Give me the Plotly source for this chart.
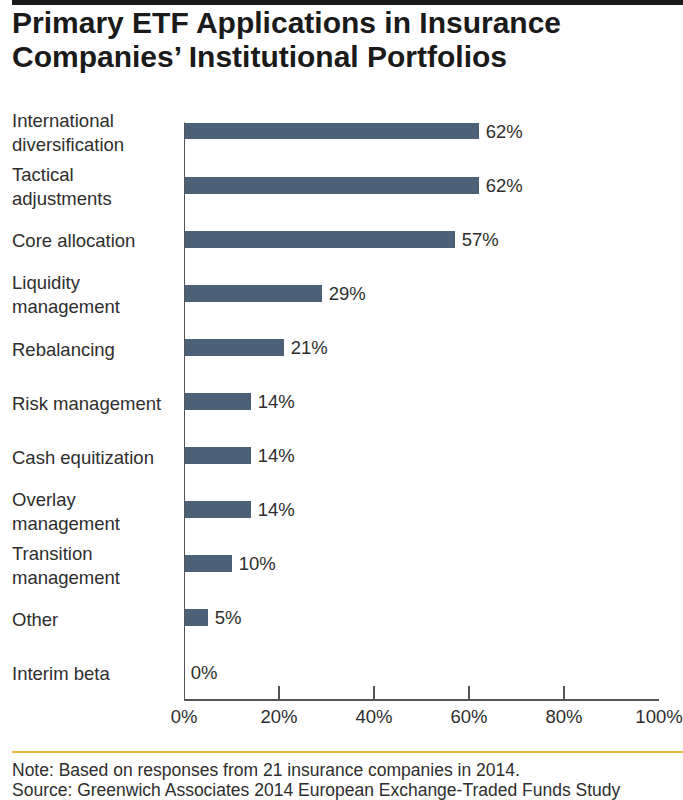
import plotly.graph_objects as go

# Survey data: share of insurers using ETFs for each purpose
categories = [
    "International<br>diversification",
    "Tactical<br>adjustments",
    "Core allocation",
    "Liquidity<br>management",
    "Rebalancing",
    "Risk management",
    "Cash equitization",
    "Overlay<br>management",
    "Transition<br>management",
    "Other",
    "Interim beta",
]
values = [62, 62, 57, 29, 21, 14, 14, 14, 10, 5, 0]
x_ticks = [0, 20, 40, 60, 80, 100]
x_tick_labels = ["0%", "20%", "40%", "60%", "80%", "100%"]

title_lines = ["Primary ETF Applications in Insurance", "Companies\u2019 Institutional Portfolios"]
note_lines = [
    "Note: Based on responses from 21 insurance companies in 2014.",
    "Source: Greenwich Associates 2014 European Exchange-Traded Funds Study",
]

W, H = 683, 800
ML, MR, MT, MB = 184, 24, 104, 101
plot_w = W - ML - MR
plot_h = H - MT - MB

BAR_COLOR = "#4b6178"
TEXT_COLOR = "#2e2e2e"
AXIS_COLOR = "#555555"
BODY_FONT = "Liberation Sans, Arial, sans-serif"
BODY_SIZE = 18.5
LEFT_PX = 10

ids = list(range(len(categories)))

fig = go.Figure(
    go.Bar(
        x=values,
        y=ids,
        orientation="h",
        width=0.31,
        marker=dict(color=BAR_COLOR, line=dict(width=0)),
        text=[f"\u2009{v}%" for v in values],
        textposition="outside",
        constraintext="none",
        cliponaxis=False,
        textfont=dict(family=BODY_FONT, size=BODY_SIZE, color=TEXT_COLOR),
        hoverinfo="skip",
    )
)


def px_x(px):
    return (px - ML) / plot_w


def px_y(py):
    return 1 - (py - MT) / plot_h


annotations = []
# Left-aligned category labels
for i, lab in zip(ids, categories):
    annotations.append(dict(
        x=px_x(LEFT_PX), xref="paper", y=i + 0.03, yref="y",
        text=lab, showarrow=False, xanchor="left", yanchor="middle", align="left",
        font=dict(family=BODY_FONT, size=BODY_SIZE, color=TEXT_COLOR),
    ))

# Title
for k, line in enumerate(title_lines):
    annotations.append(dict(
        x=px_x(LEFT_PX), xref="paper", y=px_y(22 + 34 * k), yref="paper",
        text=f"<b>{line}</b>", showarrow=False, xanchor="left", yanchor="middle",
        font=dict(family=BODY_FONT, size=30, color="#1a1a1a"),
    ))

# Footnotes
for k, line in enumerate(note_lines):
    annotations.append(dict(
        x=px_x(LEFT_PX), xref="paper", y=px_y(770 + 20 * k), yref="paper",
        text=line, showarrow=False, xanchor="left", yanchor="middle",
        font=dict(family=BODY_FONT, size=17.5, color=TEXT_COLOR),
    ))

shapes = [
    # Heavy rule across the top
    dict(type="rect", xref="paper", yref="paper",
         x0=px_x(12), x1=px_x(W), y0=px_y(0), y1=px_y(5),
         fillcolor="#1a1a1a", line=dict(width=0), layer="above"),
    # Gold separator above the notes
    dict(type="line", xref="paper", yref="paper",
         x0=px_x(12), x1=px_x(W), y0=px_y(752), y1=px_y(752),
         line=dict(color="#efb844", width=2)),
    # Vertical baseline starting at the first bar
    dict(type="line", xref="x", yref="y",
         x0=0, x1=0, y0=-0.16, y1=len(categories) - 0.5,
         line=dict(color=AXIS_COLOR, width=2), layer="above"),
]

fig.update_layout(
    width=W, height=H,
    margin=dict(l=ML, r=MR, t=MT, b=MB, autoexpand=False),
    paper_bgcolor="white", plot_bgcolor="white",
    showlegend=False,
    annotations=annotations,
    shapes=shapes,
    bargap=0,
    xaxis=dict(
        range=[0, 100], tickvals=x_ticks, ticktext=x_tick_labels,
        ticks="inside", ticklen=13, tickwidth=2, tickcolor=AXIS_COLOR,
        showline=True, linecolor=AXIS_COLOR, linewidth=2,
        showgrid=False, zeroline=False, automargin=False,
        tickfont=dict(family=BODY_FONT, size=BODY_SIZE, color=TEXT_COLOR),
        fixedrange=True,
    ),
    yaxis=dict(
        range=[len(categories) - 0.5, -0.5],
        showticklabels=False, showgrid=False, zeroline=False,
        showline=False, ticks="", fixedrange=True, automargin=False,
    ),
)

fig.write_html("out.html")
